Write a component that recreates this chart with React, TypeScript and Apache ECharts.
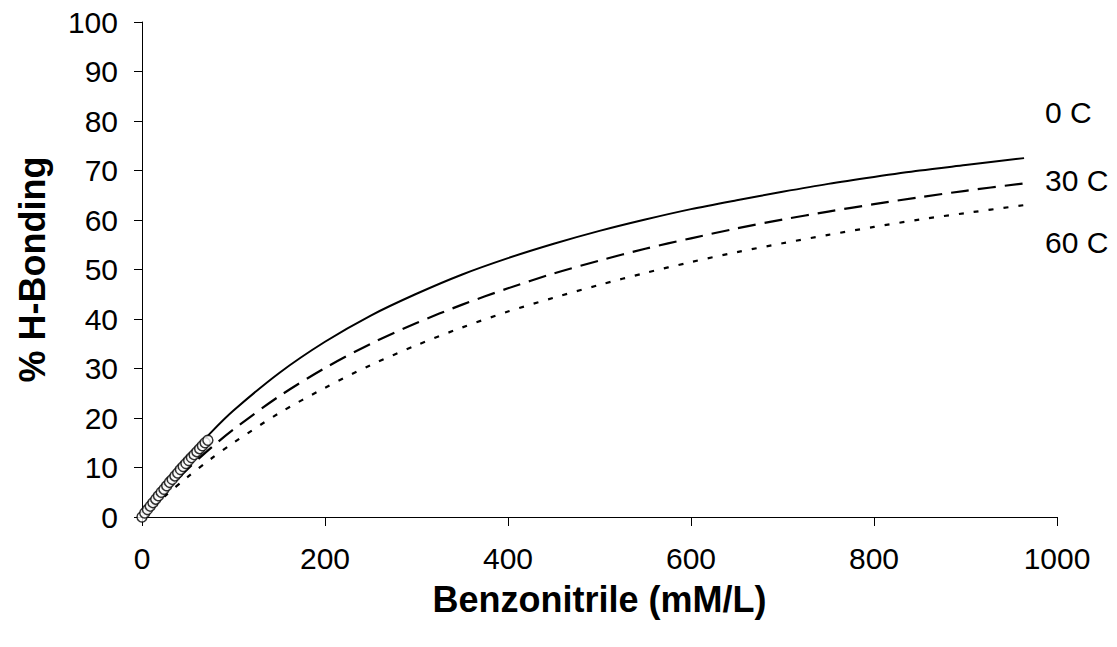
import React, { useEffect, useRef } from "react";
import * as echarts from "echarts";

const curveX = [0, 25, 50, 75, 100, 150, 200, 250, 300, 350, 400, 450, 500, 550, 600, 650, 700, 750, 800, 850, 900, 964];
const solid0C = [0, 6.4, 12.0, 17.0, 21.5, 29.1, 35.4, 40.7, 45.1, 49.0, 52.3, 55.2, 57.8, 60.1, 62.2, 64.0, 65.7, 67.3, 68.7, 70.0, 71.1, 72.5];
const dashed30C = [0, 5.1, 9.7, 13.9, 17.7, 24.4, 30.1, 35.0, 39.2, 42.9, 46.2, 49.2, 51.8, 54.2, 56.3, 58.3, 60.1, 61.7, 63.2, 64.6, 65.9, 67.4];
const dotted60C = [0, 4.2, 8.1, 11.7, 15.0, 21.0, 26.1, 30.7, 34.7, 38.3, 41.5, 44.3, 46.9, 49.3, 51.5, 53.5, 55.3, 57.0, 58.6, 60.1, 61.4, 63.0];

const pointsX = [0, 3, 6, 9, 12, 15, 18, 21, 24, 27, 30, 33, 36, 39, 42, 45, 48, 51, 54, 57, 60, 63, 66, 69, 72];
const pointsY = [0, 0.8, 1.5, 2.2, 2.9, 3.6, 4.3, 5.0, 5.6, 6.3, 7.0, 7.6, 8.3, 8.9, 9.6, 10.2, 10.8, 11.4, 12.0, 12.6, 13.2, 13.8, 14.4, 15.0, 15.5];

const seriesLabels = ["0 C", "30 C", "60 C"];
const xTitle = "Benzonitrile (mM/L)";
const yTitle = "% H-Bonding";

const FONT = "'Liberation Sans', Arial, sans-serif";

export default function App() {
  const ref = useRef<HTMLDivElement>(null);
  useEffect(() => {
    if (!ref.current) return;
    const chart = echarts.init(ref.current, undefined, { renderer: "svg" });
    const zip = (xs: number[], ys: number[]) => xs.map((x, i) => [x, ys[i]]);
    const lineCommon = {
      type: "line",
      showSymbol: false,
      symbol: "none",
      smooth: 0.3,
      z: 2,
    };
    const labelStyle = { fontFamily: FONT, fontSize: 30, fill: "#000" };
    chart.setOption({
      animation: false,
      backgroundColor: "#ffffff",
      grid: { left: 142, right: 60, top: 22, bottom: 130 },
      xAxis: {
        type: "value",
        min: 0,
        max: 1000,
        interval: 200,
        name: xTitle,
        nameLocation: "middle",
        nameGap: 64,
        nameTextStyle: { fontFamily: FONT, fontSize: 36, fontWeight: "bold", color: "#000" },
        axisLine: { show: true, lineStyle: { color: "#000", width: 1 } },
        axisTick: { show: true, inside: false, length: 9, lineStyle: { color: "#000" } },
        axisLabel: { fontFamily: FONT, fontSize: 30, color: "#000", margin: 26, formatter: (v: number) => String(v) },
        splitLine: { show: false },
      },
      yAxis: {
        type: "value",
        min: 0,
        max: 100,
        interval: 10,
        name: yTitle,
        nameLocation: "middle",
        nameGap: 92,
        nameRotate: 90,
        nameTextStyle: { fontFamily: FONT, fontSize: 36, fontWeight: "bold", color: "#000" },
        axisLine: { show: true, lineStyle: { color: "#000", width: 1 } },
        axisTick: { show: true, inside: false, length: 8, lineStyle: { color: "#000" } },
        axisLabel: { fontFamily: FONT, fontSize: 30, color: "#000", margin: 24 },
        splitLine: { show: false },
      },
      series: [
        { ...lineCommon, name: seriesLabels[0], data: zip(curveX, solid0C), lineStyle: { color: "#000", width: 2, type: "solid" } },
        { ...lineCommon, name: seriesLabels[1], data: zip(curveX, dashed30C), lineStyle: { color: "#000", width: 2.2, type: [18, 9] } },
        { ...lineCommon, name: seriesLabels[2], data: zip(curveX, dotted60C), lineStyle: { color: "#000", width: 2.2, type: [5, 10] } },
        {
          type: "scatter",
          name: "data",
          data: zip(pointsX, pointsY),
          symbol: "circle",
          symbolSize: 10,
          itemStyle: { color: "#fff", borderColor: "#000", borderWidth: 1.5 },
          z: 3,
        },
      ],
      graphic: [
        { type: "text", left: 1045, top: 97, style: { text: seriesLabels[0], ...labelStyle } },
        { type: "text", left: 1045, top: 165, style: { text: seriesLabels[1], ...labelStyle } },
        { type: "text", left: 1045, top: 227, style: { text: seriesLabels[2], ...labelStyle } },
      ],
    });
    return () => chart.dispose();
  }, []);
  return (
    <div
      ref={ref}
      style={{ position: "absolute", left: 0, top: 0, width: 1117, height: 647, background: "#fff" }}
    />
  );
}
